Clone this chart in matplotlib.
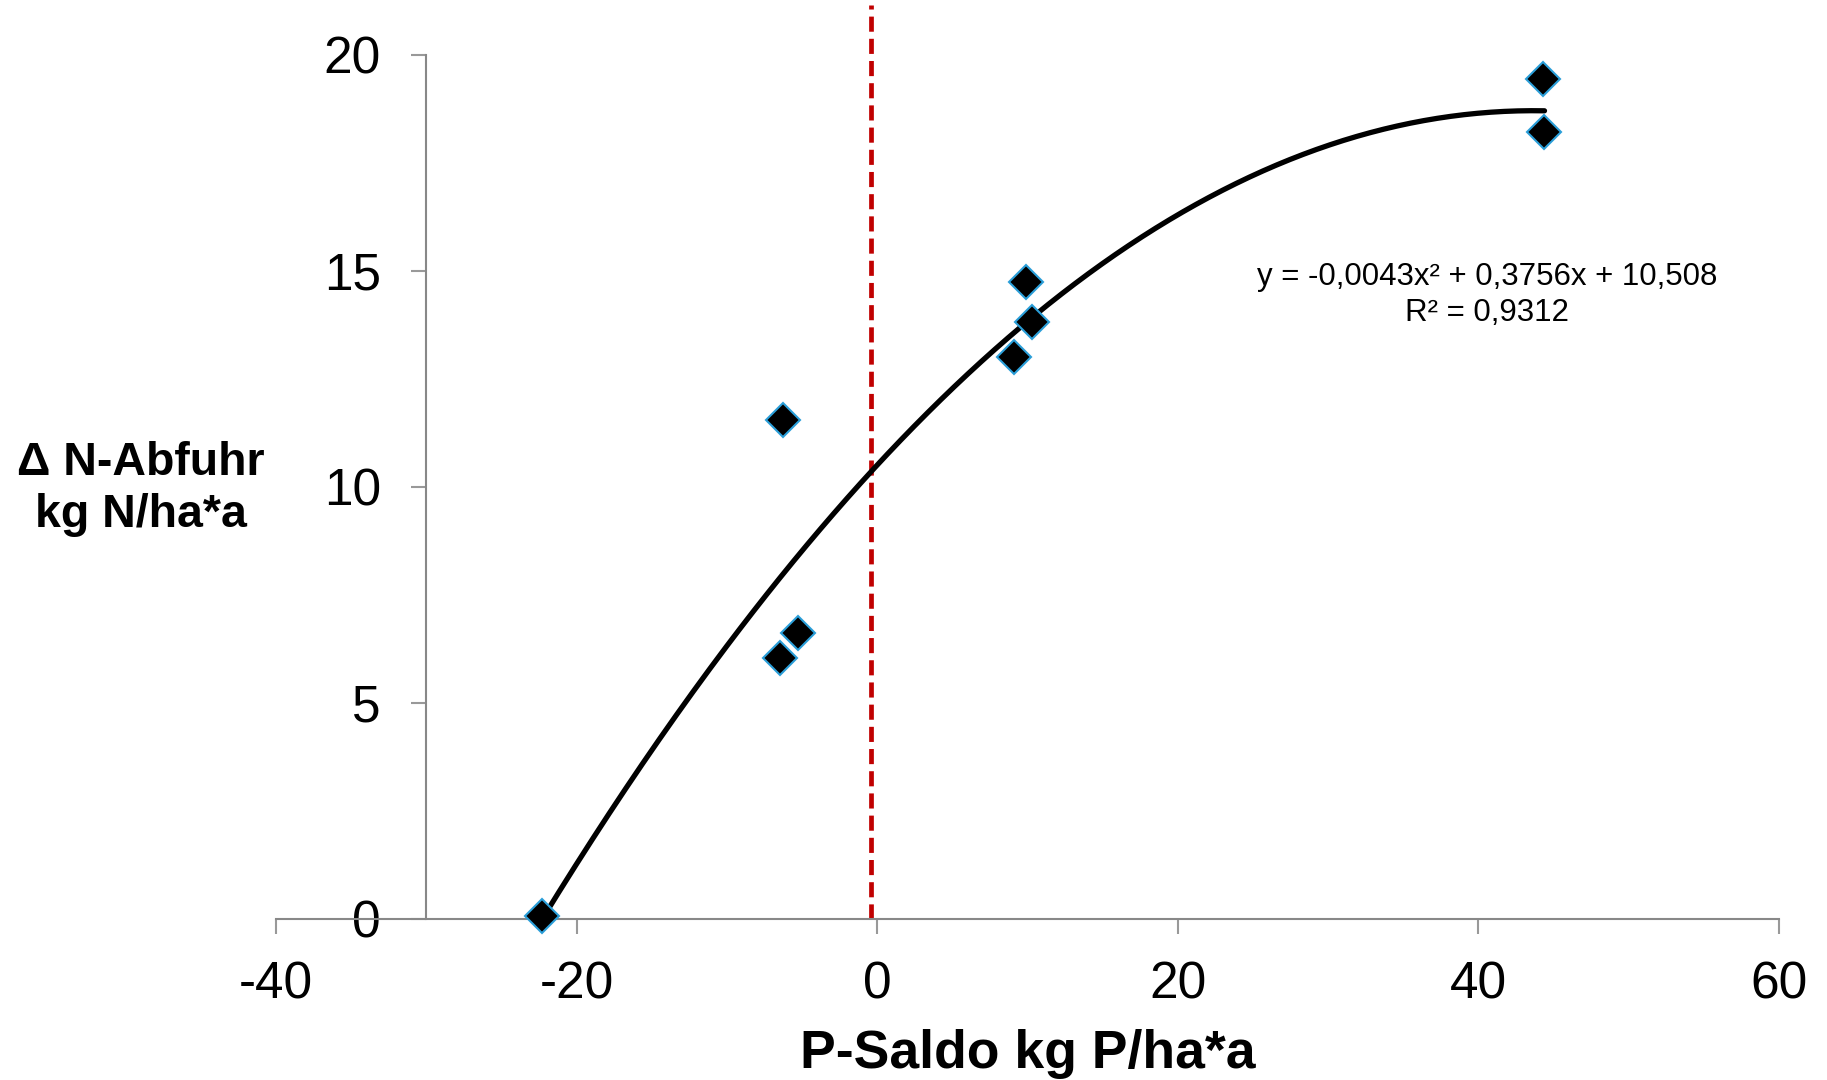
import matplotlib
matplotlib.use("Agg")
import matplotlib.pyplot as plt
import numpy as np

# --- DATA ---
P_SALDO = [-22.3, -6.3, -6.5, -5.3, 9.9, 10.3, 9.1, 44.3, 44.4]   # kg P/ha*a
N_ABFUHR = [0.07, 11.55, 6.03, 6.61, 14.75, 13.83, 13.02, 19.44, 18.22]  # delta N kg/ha*a
TREND_COEF = [-0.0043, 0.3756, 10.508]   # Excel polynomial trendline (order 2)
R2 = "0,9312"
ZERO_LINE_X = -0.4
XTICKS = [-40, -20, 0, 20, 40, 60]
YTICKS = [0, 5, 10, 15, 20]

plt.rcParams["font.family"] = ["Liberation Sans", "DejaVu Sans"]
plt.rcParams["axes.unicode_minus"] = False

fig = plt.figure(figsize=(18.27, 10.80), dpi=100)
ax = fig.add_axes([0.1511, 0.1491, 0.8226, 0.848])

ax.set_xlim(-40, 60)
ax.set_ylim(0, 21.2)

# red dashed balance-zero line
ax.plot([ZERO_LINE_X, ZERO_LINE_X], [0, 21.15], color="#C00000", lw=3.4,
        ls=(0, (3.2, 1.5)), zorder=2, clip_on=False)

# trendline
xs = np.linspace(min(P_SALDO), max(P_SALDO), 300)
ax.plot(xs, np.polyval(TREND_COEF, xs), color="black", lw=3.8,
        solid_capstyle="round", zorder=3)

ax.plot(P_SALDO, N_ABFUHR, ls="none", marker="D", ms=17, mfc="black",
        mec="#2A9ED8", mew=1.5, zorder=4, clip_on=False)

ax.text(40.6, 14.45, "y = -0,0043x² + 0,3756x + 10,508\nR² = " + R2,
        ha="center", va="center", fontsize=22.5, linespacing=1.25)

# axes styling
for s in ("top", "right"):
    ax.spines[s].set_visible(False)
ax.spines["left"].set_position(("data", -30))
ax.spines["left"].set_bounds(0, 20)
ax.spines["bottom"].set_bounds(-40, 60)
for s in ("left", "bottom"):
    ax.spines[s].set_color("#888888")
    ax.spines[s].set_linewidth(1.5)
ax.set_xticks(XTICKS)
ax.set_yticks(YTICKS)
ax.tick_params(axis="both", direction="out", length=10.8, width=1.5,
               color="#999999", labelsize=37)
ax.tick_params(axis="x", pad=19)
ax.tick_params(axis="y", pad=22)

fig.text(0.0772, 0.547, "Δ N-Abfuhr\nkg N/ha*a", ha="center", va="center",
         fontsize=33.5, fontweight="bold", linespacing=1.25)
fig.text(0.5627, 0.024, "P-Saldo kg P/ha*a", ha="center", va="center",
         fontsize=38.5, fontweight="bold")

fig.savefig("out.png", dpi=100)
